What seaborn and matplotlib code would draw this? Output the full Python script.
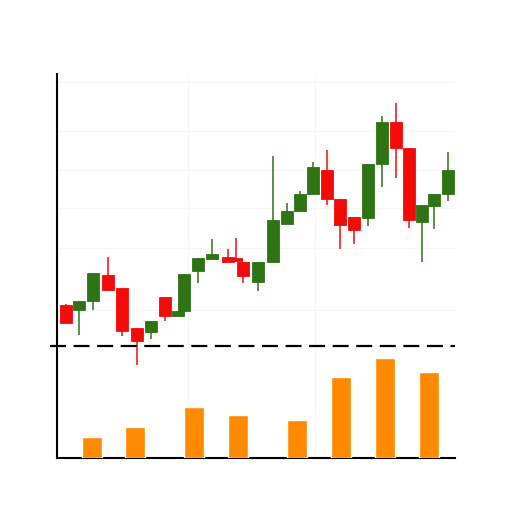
import matplotlib
matplotlib.use("Agg")
import matplotlib.pyplot as plt
import seaborn as sns
import numpy as np

# ---- data ----
day = [0.64, 1.57, 2.57, 3.64, 4.64, 5.71, 6.71, 7.71, 8.64, 9.07,
       10.07, 11.07, 12.21, 12.79, 13.29, 14.36, 15.43, 16.43, 17.36, 18.29,
       19.29, 20.21, 21.21, 22.21, 23.21, 24.21, 25.14, 26.07, 26.93, 27.93]
open_ = [35.3, 34.8, 35.7, 38.3, 37.0, 33.0, 32.6, 36.1, 34.2, 34.7,
         38.7, 39.9, 40.1, 40.0, 39.6, 37.6, 39.6, 43.4, 44.7, 46.4,
         48.8, 45.9, 44.1, 44.0, 49.4, 53.6, 51.0, 43.6, 45.2, 46.4]
close = [33.5, 35.7, 38.5, 36.8, 32.7, 31.7, 33.7, 34.2, 34.7, 38.4,
         40.0, 40.4, 39.6, 39.7, 38.2, 39.6, 43.8, 44.7, 46.4, 49.1,
         45.9, 43.3, 42.8, 49.4, 53.6, 51.0, 43.8, 45.3, 46.4, 48.8]
high = [35.4, 35.7, 38.5, 40.1, 37.0, 33.0, 33.7, 36.1, 34.7, 38.4,
        40.0, 41.9, 40.9, 42.0, 39.6, 39.6, 50.2, 45.5, 46.7, 49.6,
        50.8, 45.9, 44.1, 49.4, 54.2, 55.5, 51.0, 45.3, 46.4, 50.6]
low = [33.4, 32.3, 34.8, 36.8, 32.2, 29.3, 31.9, 33.7, 34.2, 34.7,
       37.5, 39.9, 39.6, 39.7, 37.5, 36.7, 39.6, 43.4, 44.7, 46.4,
       45.3, 40.9, 41.4, 43.2, 47.1, 48.0, 43.0, 39.6, 42.9, 45.7]

vol_day = [2.5, 5.57, 9.79, 12.93, 17.14, 20.29, 23.43, 26.57]
volume = [2100, 3100, 5100, 4300, 3800, 8100, 10000, 8600]

separator_price = 31.2
grid_prices = [57.6, 52.7, 48.8, 45.0, 41.0, 34.8]
grid_days = [9.36, 18.43]

UP = "#2e7414"
DOWN = "#f50a0a"
VOL = "#ff8a00"

sns.set_theme(style="white")

fig = plt.figure(figsize=(5.12, 5.12), dpi=100)
ax = fig.add_axes([57 / 512, 1 - 458 / 512, 398 / 512, 384 / 512])
ax2 = ax.twinx()

colors = [UP if c >= o else DOWN for o, c in zip(open_, close)]
bottoms = [min(o, c) for o, c in zip(open_, close)]
heights = [max(abs(c - o), 0.15) for o, c in zip(open_, close)]

ax.vlines(day, low, high, colors=colors, linewidth=1.1, zorder=3)
ax.bar(day, heights, bottom=bottoms, width=0.82, color=colors,
       edgecolor=colors, linewidth=0.6, zorder=4)

ax.axhline(separator_price, xmin=-0.018, xmax=1.0, color="black",
           linewidth=1.6, dashes=(7.2, 3.4), clip_on=False, zorder=5)

sns.barplot(x=vol_day, y=volume, native_scale=True, width=1.43 / 3.07,
            color=VOL, saturation=1, ax=ax2, zorder=2)

ax.set_xlim(0, 28.43)
ax.set_ylim(20, 58.4)
ax2.set_ylim(0, 38400)
ax2.set_xlim(0, 28.43)

ax.set_yticks(grid_prices)
ax.set_xticks(grid_days)
ax.grid(True, color="#f7f7f7", linewidth=0.8)
ax.tick_params(left=False, bottom=False, labelleft=False, labelbottom=False)
ax2.tick_params(right=False, labelright=False, bottom=False, labelbottom=False)
ax2.set_yticks([])

for s in ["top", "right"]:
    ax.spines[s].set_visible(False)
for s in ax2.spines.values():
    s.set_visible(False)
ax.spines["left"].set_color("black")
ax.spines["bottom"].set_color("black")
ax.spines["left"].set_linewidth(1.5)
ax.spines["bottom"].set_linewidth(1.5)
ax.set_xlabel("")
ax.set_ylabel("")
ax2.set_xlabel("")
ax2.set_ylabel("")

fig.savefig("out.png", dpi=100, facecolor="white")
